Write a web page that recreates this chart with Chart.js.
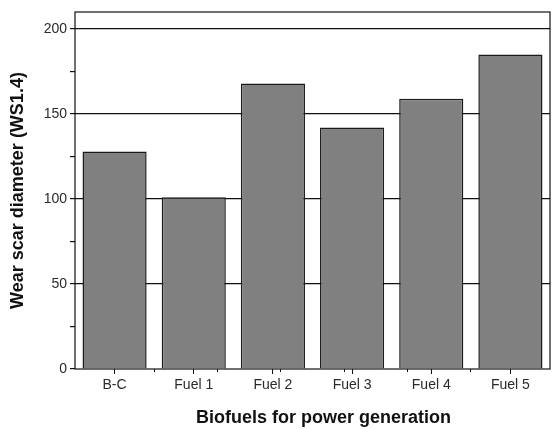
<!DOCTYPE html>
<html><head><meta charset="utf-8">
<script src="https://cdn.jsdelivr.net/npm/chart.js@4"></script>
<style>html,body{margin:0;padding:0;background:#fff}#wrap{width:557px;height:429px}</style>
</head><body><div id="wrap"><canvas id="c" width="557" height="429"></canvas></div>
<script>
const categories = ["B-C", "Fuel 1", "Fuel 2", "Fuel 3", "Fuel 4", "Fuel 5"];
const wearScar = [128, 101, 168, 142, 159, 185];
const yTicks = [0, 25, 50, 75, 100, 125, 150, 175, 200];
const yLabeled = [0, 50, 100, 150, 200];
const xMinorTicks = [0.5, 1.5, 2.5, 3.5, 4.5];
const xTitle = 'Biofuels for power generation';
const yTitle = 'Wear scar diameter (WS1.4)';

const boxPlugin = {
  id: 'box',
  afterDatasetsDraw(chart) {
    const a = chart.chartArea, ctx = chart.ctx;
    ctx.save();
    ctx.strokeStyle = '#111';
    ctx.lineWidth = 1.2;
    ctx.strokeRect(a.left, a.top, a.right - a.left, a.bottom - a.top);
    ctx.restore();
  },
  afterDraw(chart) {
    const a = chart.chartArea, ctx = chart.ctx;
    ctx.save();
    ctx.fillStyle = '#111';
    ctx.font = 'bold 18px "Liberation Sans"';
    ctx.textAlign = 'center';
    ctx.textBaseline = 'middle';
    ctx.fillText(xTitle, (a.left + a.right) / 2 + 11, 418);
    ctx.restore();
  }
};

new Chart(document.getElementById('c'), {
  type: 'bar',
  data: { labels: categories, datasets: [{ data: wearScar, backgroundColor: '#808080', borderColor: '#1a1a1a', borderWidth: 1.5, barPercentage: 0.81, categoryPercentage: 1 }] },
  options: {
    responsive: false, animation: false,
    layout: { padding: { top: 12, right: 7, left: 0, bottom: 0 } },
    plugins: { legend: { display: false }, tooltip: { enabled: false } },
    scales: {
      x: {
        weight: 0,
        afterFit(s) { s.height = 60; },
        grid: { display: true, drawOnChartArea: false, offset: false, tickLength: 5, color: '#111', lineWidth: 1 },
        border: { display: false },
        ticks: { color: '#2a2a2a', font: { family: 'Liberation Sans', size: 14 }, padding: 3 },
        title: { display: false }
      },
      x2: {
        type: 'linear', position: 'bottom', weight: -1,
        min: -0.5, max: 5.5,
        afterFit(s) { s.height = 0; },
        afterBuildTicks(s) { s.ticks = xMinorTicks.map(v => ({ value: v })); },
        grid: { display: true, drawOnChartArea: false, tickLength: 3, color: '#111', lineWidth: 1 },
        border: { display: false },
        ticks: { display: false }
      },
      y: {
        min: 0, max: 210,
        afterFit(s) { s.width = 75; },
        afterBuildTicks(s) { s.ticks = yTicks.map(v => ({ value: v })); },
        grid: {
          drawOnChartArea: true, tickLength: 5,
          color: ctx => (ctx.tick && yLabeled.includes(ctx.tick.value) && ctx.tick.value !== 0) ? '#111' : 'rgba(0,0,0,0)',
          tickColor: '#111', lineWidth: 1.2
        },
        border: { display: false },
        ticks: { color: '#2a2a2a', font: { family: 'Liberation Sans', size: 14 }, padding: 3, autoSkip: false,
          callback: v => yLabeled.includes(v) ? String(v) : '' },
        title: { display: true, text: yTitle, color: '#111', font: { family: 'Liberation Sans', size: 18, weight: 'bold' }, padding: { top: 7, bottom: 0 } }
      }
    }
  },
  plugins: [boxPlugin]
});
</script></body></html>
